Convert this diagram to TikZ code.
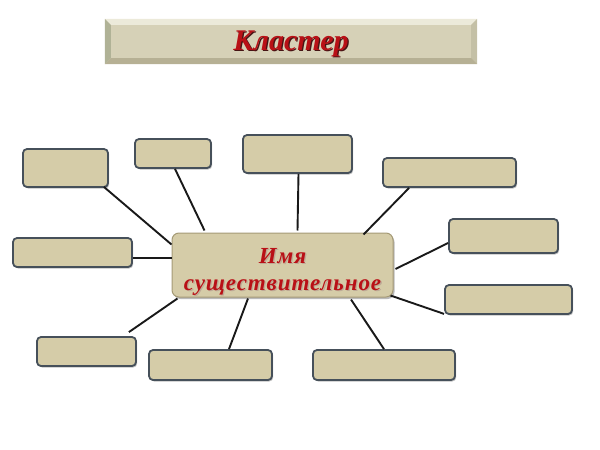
\documentclass[tikz,border=0pt]{standalone}
\usepackage{fontspec}
\setmainfont{Liberation Serif}
\usepackage{tikz}
\usetikzlibrary{
    shadows
}

\definecolor{boxfill}{RGB}{213,204,168}
\definecolor{boxline}{RGB}{70,80,90}
\definecolor{hubline}{RGB}{165,154,118}
\definecolor{wordred}{RGB}{185,16,22}
\definecolor{titleshade}{RGB}{70,20,20}
\definecolor{hubshade}{RGB}{190,170,150}
\definecolor{bevlight}{RGB}{236,234,218}
\definecolor{bevleft}{RGB}{176,178,150}
\definecolor{bevright}{RGB}{196,192,166}
\definecolor{bevlow}{RGB}{182,176,148}
\definecolor{titlefill}{RGB}{214,209,183}

% text with a small shadow below right
\newcommand{\shadowed}[2]{\makebox[0pt][l]{\hspace{1.3pt}\raisebox{-1.3pt}{\textcolor{#1}{#2}}}#2}

\begin{document}
\begin{tikzpicture}[
    x=1pt, y=-1pt,
    title_style/.style={
        fill=titlefill,
        minimum width=372pt,
        minimum height=45pt,
        inner sep=0pt
    },
    hub_style/.style={
        draw=hubline,
        line width=1pt,
        fill=boxfill,
        rounded corners=7pt,
        minimum width=221pt,
        minimum height=64pt,
        align=center,
        inner sep=0pt,
        text=wordred,
        font=\bfseries\itshape\fontsize{23}{27}\selectfont\addfontfeature{LetterSpace=4},
        drop shadow={shadow xshift=1.5pt, shadow yshift=-2pt, fill=black!45, opacity=0.6}
    },
    leaf_style/.style={
        draw=boxline,
        line width=1.8pt,
        fill=boxfill,
        rounded corners=4pt,
        inner sep=0pt,
        drop shadow={shadow xshift=1.2pt, shadow yshift=-1.5pt, fill=black!50, opacity=0.5}
    },
    edge_style/.style={
        draw=black!90,
        line width=1.9pt
    }
]

\useasboundingbox (0,0) rectangle (600,450);

% --- Title ---
\node[title_style] (title) at (291,41.5) {};
\fill[bevlight] (title.north west) -- (title.north east) -- ([shift={(-6pt,-6pt)}]title.north east) -- ([shift={(6pt,-6pt)}]title.north west) -- cycle;
\fill[bevleft] (title.north west) -- ([shift={(6pt,-6pt)}]title.north west) -- ([shift={(6pt,6pt)}]title.south west) -- (title.south west) -- cycle;
\fill[bevright] (title.north east) -- ([shift={(-6pt,-6pt)}]title.north east) -- ([shift={(-6pt,6pt)}]title.south east) -- (title.south east) -- cycle;
\fill[bevlow] (title.south west) -- ([shift={(6pt,6pt)}]title.south west) -- ([shift={(-6pt,6pt)}]title.south east) -- (title.south east) -- cycle;
\node[text=wordred, font=\bfseries\itshape\fontsize{30}{34}\selectfont] (title_text) at ([yshift=-3pt]title.center) {\shadowed{titleshade}{Кластер}};

% --- Nodes ---
\node[hub_style] (noun) at (282.5,265) {\rule{0pt}{30pt}\shadowed{hubshade}{Имя}\\\shadowed{hubshade}{существительное}};

\node[leaf_style, minimum width=85pt,  minimum height=38pt] (b1)  at (65.5,168)  {};
\node[leaf_style, minimum width=76pt,  minimum height=29pt] (b2)  at (173,153.5) {};
\node[leaf_style, minimum width=119pt, minimum height=29pt] (b3)  at (72.5,252.5) {};
\node[leaf_style, minimum width=109pt, minimum height=38pt] (b4)  at (297.5,154) {};
\node[leaf_style, minimum width=133pt, minimum height=29pt] (b5)  at (449.5,172.5) {};
\node[leaf_style, minimum width=109pt, minimum height=34pt] (b6)  at (503.5,236) {};
\node[leaf_style, minimum width=127pt, minimum height=29pt] (b7)  at (508.5,299.5) {};
\node[leaf_style, minimum width=99pt,  minimum height=29pt] (b8)  at (86.5,351.5) {};
\node[leaf_style, minimum width=123pt, minimum height=30pt] (b9)  at (210.5,365) {};
\node[leaf_style, minimum width=142pt, minimum height=30pt] (b10) at (384,365) {};

% --- Edges ---
\draw[edge_style] ([xshift=-5pt,yshift=1pt]b1.south east) -- ([yshift=-12pt]noun.north west);
\draw[edge_style] ([xshift=2pt]b2.south) -- ([xshift=33pt,yshift=2pt]noun.north west);
\draw[edge_style] ([yshift=-5.5pt]b3.east) -- ([yshift=7pt]noun.west);
\draw[edge_style] ([xshift=1pt]b4.south) -- ([xshift=15pt,yshift=2pt]noun.north);
\draw[edge_style] ([xshift=27pt]b5.south west) -- ([xshift=-30pt,yshift=-2pt]noun.north east);
\draw[edge_style] ([yshift=-7pt]b6.west) -- ([xshift=2pt,yshift=-4pt]noun.east);
\draw[edge_style] ([xshift=-3pt,yshift=2pt]noun.south east) -- ([yshift=1pt]b7.south west);
\draw[edge_style] ([xshift=-8pt,yshift=4pt]b8.north east) -- ([xshift=6pt,yshift=-1pt]noun.south west);
\draw[edge_style] ([xshift=18.5pt]b9.north) -- ([xshift=-34.5pt,yshift=-1pt]noun.south);
\draw[edge_style] (b10.north) -- ([xshift=68.5pt,yshift=-2pt]noun.south);

\end{tikzpicture}
\end{document}
